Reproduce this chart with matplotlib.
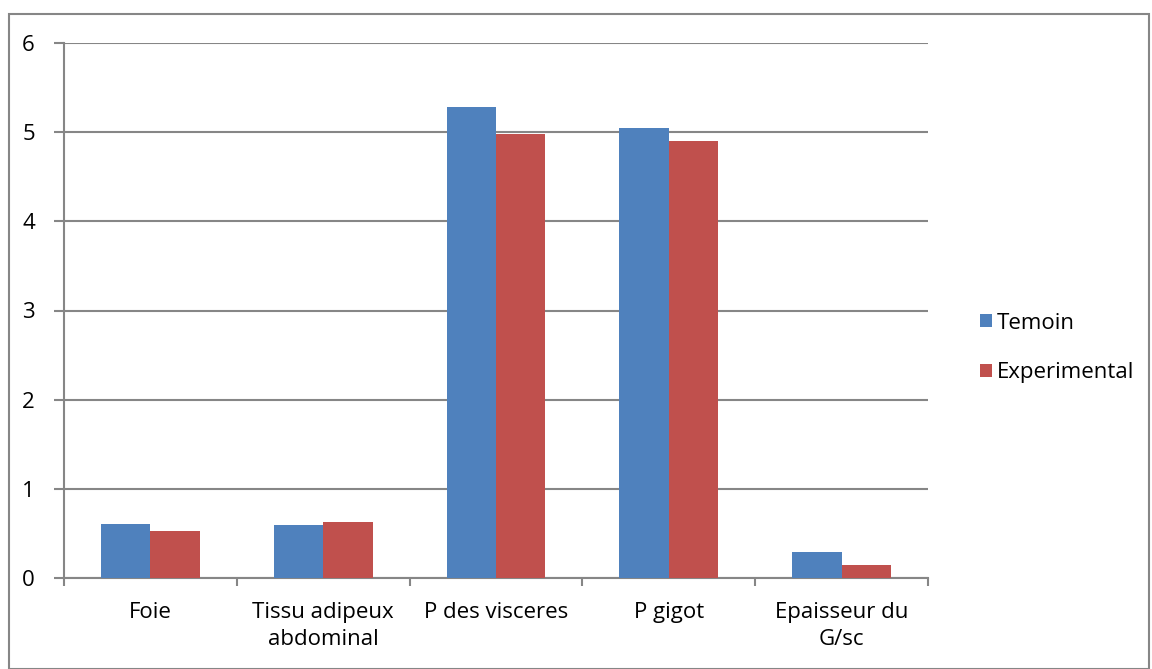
import numpy as np
import matplotlib.pyplot as plt
from matplotlib.patches import Rectangle

categories = ['Foie', 'Tissu adipeux\nabdominal', 'P des visceres', 'P gigot', 'Epaisseur du\nG/sc']
temoin = [0.61, 0.60, 5.28, 5.05, 0.29]
experimental = [0.53, 0.63, 4.98, 4.90, 0.15]
yticks = [0, 1, 2, 3, 4, 5, 6]

plt.rcParams['font.family'] = ['Open Sans', 'DejaVu Sans']
grey = '#868686'
fs = 16

fig = plt.figure(figsize=(11.52, 6.69), dpi=100)
ax = fig.add_axes([64 / 1152, 1 - 578 / 669, (928 - 64) / 1152, (578 - 43) / 669])

x = np.arange(len(categories))
w = 1 / 3.5
ax.bar(x - w / 2, temoin, w, color='#4f81bd', label='Temoin', zorder=3)
ax.bar(x + w / 2, experimental, w, color='#c0504d', label='Experimental', zorder=3)

ax.set_xlim(-0.5, len(categories) - 0.5)
ax.set_ylim(0, 6)
ax.set_yticks(yticks)
ax.set_yticklabels([str(v) for v in yticks], fontsize=fs)
ax.yaxis.grid(True, color=grey, linewidth=1.5, zorder=0)

# category boundaries get the tick marks, labels sit between them
ax.set_xticks(np.arange(-0.5, len(categories)))
ax.set_xticklabels([])
ax.set_xticks(x, minor=True)
ax.set_xticklabels(categories, minor=True, fontsize=fs, linespacing=1.4)
ax.tick_params(axis='x', which='minor', length=0, pad=17)
ax.tick_params(axis='x', which='major', length=6, color=grey, width=1.5)
ax.tick_params(axis='y', length=7, color=grey, width=1.5, pad=14)

for s in ['top', 'right']:
    ax.spines[s].set_visible(False)
for s in ['left', 'bottom']:
    ax.spines[s].set_color(grey)
    ax.spines[s].set_linewidth(1.5)

leg = fig.legend(loc='center left', bbox_to_anchor=(960 / 1152, 1 - 348 / 669),
                 frameon=False, fontsize=fs, handlelength=0.55, handleheight=0.55,
                 handletextpad=0.2, labelspacing=1.3)

fig.patches.append(Rectangle((9 / 1152, 0), 1140 / 1152, 1 - 14 / 669,
                             transform=fig.transFigure, fill=False,
                             edgecolor=grey, linewidth=1.5))

fig.savefig('out.png', dpi=100)
